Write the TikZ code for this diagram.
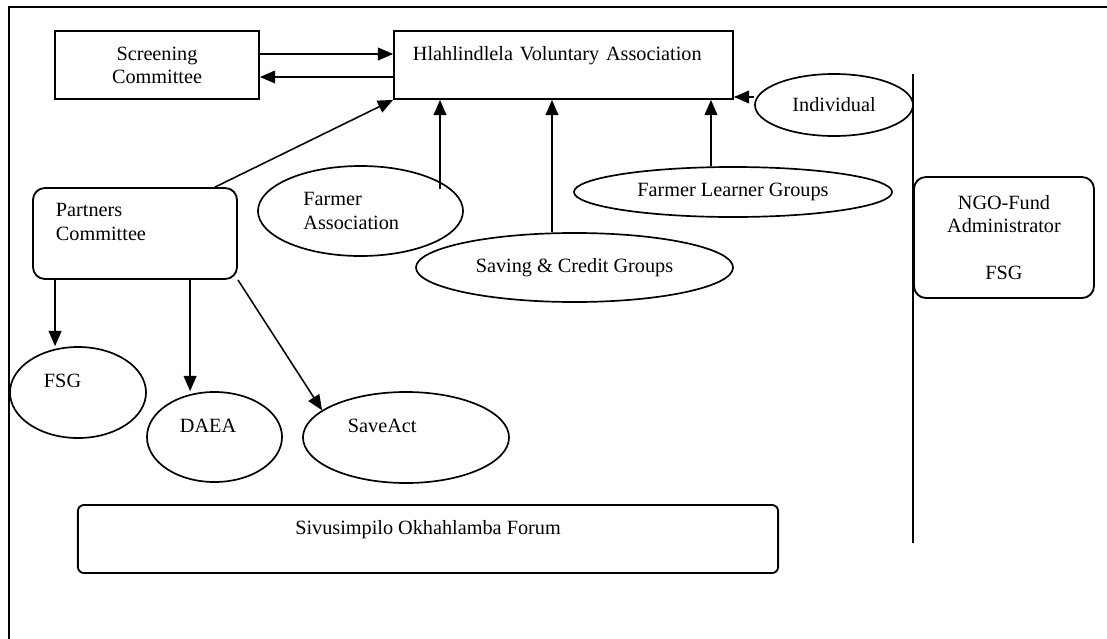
\documentclass[tikz,border=0pt]{standalone}
\usepackage{fontspec}
\setmainfont{Liberation Serif}
\usetikzlibrary{arrows.meta,shapes.geometric}

\begin{document}
\begin{tikzpicture}[x=0.025cm, y=-0.025cm,
    every node/.style={font=\fontsize{14.4}{16.5}\selectfont, inner sep=0pt},
    box/.style={draw, line width=1.3pt, rectangle},
    rbox/.style={draw, line width=1.3pt, rectangle, rounded corners=0.3cm},
    oval/.style={draw, line width=1.2pt, ellipse},
    link/.style={line width=1.1pt, -{Triangle[length=0.38cm,width=0.32cm]}}]
      \useasboundingbox (0,0) rectangle (1107,639);
      \draw[line width=2pt] (1107,7) -- (9,7) -- (9,639);
      % Define nodes
      \node[box, minimum width=5.1cm, minimum height=1.7cm, align=center] (scr) at (157,65) {Screening\\Committee};
      \node[box, minimum width=8.475cm, minimum height=1.7cm, text width=7.525cm, align=left] (hva) at (563.5,65) {Hlahlindlela Voluntary Association\\~};
      \node[rbox, minimum width=5.1cm, minimum height=2.275cm, text width=3.95cm, align=left] (part) at (135,233.5) {Partners\\Committee\\~};
      \node[oval, minimum width=5.125cm, minimum height=2.25cm, text width=2.85cm, align=left] (fa) at (360.5,211) {Farmer\\Association};
      \node[oval, minimum width=7.925cm, minimum height=1.725cm] (sc) at (574.5,267.5) {Saving \& Credit Groups};
      \node[oval, minimum width=7.95cm, minimum height=1.25cm] (flg) at (733,192) {Farmer Learner Groups};
      \node[oval, minimum width=3.95cm, minimum height=1.55cm] (ind) at (834,105) {Individual};
      \node[rbox, minimum width=4.5cm, minimum height=3.025cm, align=center] (ngo) at (1004,237.5) {NGO-Fund\\Administrator\\~\\FSG};
      \node[oval, minimum width=3.4cm, minimum height=2.275cm, text width=1.7cm, align=left] (fsg) at (78,392.5) {FSG\\~};
      \node[oval, minimum width=3.375cm, minimum height=2.25cm, text width=1.725cm, align=left] (daea) at (214.5,437) {DAEA\\~};
      \node[oval, minimum width=5.15cm, minimum height=2.275cm, text width=2.9cm, align=left] (sav) at (406,437.5) {SaveAct\\~};
      \node[rbox, rounded corners=0.15cm, minimum width=17.5cm, minimum height=1.7cm, align=center] (forum) at (428,539) {Sivusimpilo Okhahlamba Forum\\~};
      \coordinate (fatop) at (440,189);
      \draw[line width=1.2pt] (913,74) -- (913,543);
      % Connect nodes
      \draw[link] ([yshift=0.275cm]scr.east) -- ([yshift=0.275cm]scr.east -| hva.west);
      \draw[link] ([yshift=-0.3cm]scr.east -| hva.west) -- ([yshift=-0.3cm]scr.east);
      \draw[link] ([xshift=2cm]part.north) -- (hva.south west);
      \draw[link] (fatop) -- (fatop |- hva.south);
      \draw[link] ([xshift=-0.5625cm]sc.north) -- ([xshift=-0.5625cm]sc.north |- hva.south);
      \draw[link] ([xshift=-0.55cm]flg.north) -- ([xshift=-0.55cm]flg.north |- hva.south);
      \draw[link] ([yshift=0.2cm]ind.west) -- ([yshift=0.2cm]ind.west -| hva.east);
      \draw[link] ([xshift=0.575cm]part.south west) -- ([xshift=0.575cm]part.south west |- fsg.north);
      \draw[link] ([xshift=3.95cm]part.south west) -- ([xshift=3.95cm]part.south west |- daea.north);
      \draw[link] (part.south east) -- (sav.162);
\end{tikzpicture}
\end{document}
